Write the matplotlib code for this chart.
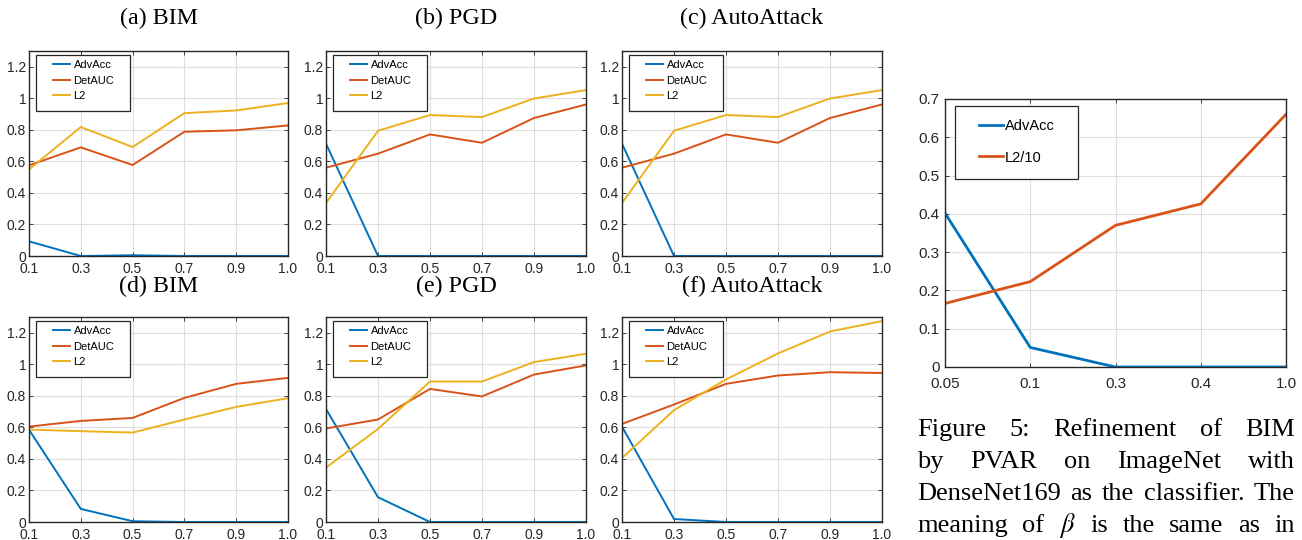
import matplotlib
matplotlib.use("Agg")
import matplotlib.pyplot as plt
from matplotlib.patches import Rectangle
import numpy as np

plt.rcParams['mathtext.fontset'] = 'stix'

# ---------------- data ----------------
beta_labels = ["0.1", "0.3", "0.5", "0.7", "0.9", "1.0"]
series_names = ["AdvAcc", "DetAUC", "L2"]

a_adv = [0.093, 0.0, 0.005, 0.0, 0.0, 0.0]
a_det = [0.575, 0.689, 0.577, 0.788, 0.797, 0.828]
a_l2 = [0.549, 0.818, 0.691, 0.906, 0.923, 0.970]

b_adv = [0.712, 0.0, 0.0, 0.0, 0.0, 0.0]
b_det = [0.560, 0.649, 0.771, 0.718, 0.875, 0.961]
b_l2 = [0.336, 0.794, 0.894, 0.881, 0.999, 1.052]

c_adv = [0.712, 0.0, 0.0, 0.0, 0.0, 0.0]
c_det = [0.560, 0.649, 0.771, 0.718, 0.875, 0.961]
c_l2 = [0.336, 0.794, 0.894, 0.881, 0.999, 1.052]

d_adv = [0.585, 0.083, 0.005, 0.0, 0.0, 0.0]
d_det = [0.605, 0.641, 0.660, 0.787, 0.876, 0.914]
d_l2 = [0.586, 0.576, 0.567, 0.650, 0.730, 0.785]

e_adv = [0.717, 0.157, 0.0, 0.0, 0.0, 0.0]
e_det = [0.593, 0.650, 0.844, 0.796, 0.935, 0.993]
e_l2 = [0.345, 0.590, 0.891, 0.891, 1.014, 1.067]

f_adv = [0.605, 0.019, 0.0, 0.0, 0.0, 0.0]
f_det = [0.622, 0.745, 0.876, 0.929, 0.950, 0.945]
f_l2 = [0.406, 0.709, 0.904, 1.069, 1.208, 1.274]

titles = ["(a) BIM", "(b) PGD", "(c) AutoAttack", "(d) BIM", "(e) PGD", "(f) AutoAttack"]

r_labels = ["0.05", "0.1", "0.3", "0.4", "1.0"]
r_names = ["AdvAcc", "L2/10"]
r_adv = [0.402, 0.051, 0.0, 0.0, 0.0]
r_l2 = [0.166, 0.223, 0.370, 0.426, 0.660]

caption_lines = [
    "Figure 5:  Refinement of BIM",
    "by PVAR on ImageNet with",
    "DenseNet169 as the classifier. The",
    r"meaning of $\beta$ is the same as in",
]

# ---------------- style ----------------
W, H = 1302, 540
colors = ["#0072BD", "#D95319", "#EDB120"]
axcol = "#262626"
sans = ["Liberation Sans", "DejaVu Sans"]
serif = ["Liberation Serif", "DejaVu Serif"]

fig = plt.figure(figsize=(W / 100, H / 100), dpi=100)


def fx(x):
    return x / W


def fy(y):
    return 1 - y / H


def px_axes(l, t, r, b):
    return fig.add_axes([l / W, 1 - b / H, (r - l) / W, (b - t) / H])


def style_axes(ax, fs, ypad, xpad):
    ax.grid(True, color="#dedede", linewidth=0.8)
    ax.set_axisbelow(True)
    for s in ax.spines.values():
        s.set_color(axcol)
        s.set_linewidth(1.0)
    ax.tick_params(direction="in", top=True, right=True, length=3,
                   width=0.6, color=axcol, labelcolor=axcol, labelsize=fs)
    ax.tick_params(axis="y", pad=ypad)
    ax.tick_params(axis="x", pad=xpad)
    for lab in ax.get_xticklabels() + ax.get_yticklabels():
        lab.set_family(sans)


def boxed_legend(ax, box, anchor, fs, hl, htp, ls):
    l, t, r, b = box
    rect = Rectangle((fx(l), fy(b)), (r - l) / W, (b - t) / H,
                     transform=fig.transFigure, facecolor="white",
                     edgecolor=axcol, linewidth=0.9, zorder=4, clip_on=False)
    ax.add_patch(rect)
    leg = ax.legend(loc="upper left", bbox_to_anchor=(fx(anchor[0]), fy(anchor[1])),
                    bbox_transform=fig.transFigure, borderaxespad=0, borderpad=0,
                    prop={"family": sans, "size": fs}, handlelength=hl,
                    handletextpad=htp, labelspacing=ls, frameon=False)
    leg.set_zorder(5)
    return leg


lefts = [29, 326, 622]
rights = [288, 586, 882]
rows = [(51, 256), (317, 522)]
title_y = [18, 286]
all_data = [
    (a_adv, a_det, a_l2), (b_adv, b_det, b_l2), (c_adv, c_det, c_l2),
    (d_adv, d_det, d_l2), (e_adv, e_det, e_l2), (f_adv, f_det, f_l2),
]
xpos = np.arange(len(beta_labels))
yt = [0, 0.2, 0.4, 0.6, 0.8, 1, 1.2]
ytl = ["0", "0.2", "0.4", "0.6", "0.8", "1", "1.2"]

for i, data in enumerate(all_data):
    r, c = divmod(i, 3)
    t, b = rows[r]
    L = lefts[c]
    ax = px_axes(L, t, rights[c], b)
    for k, ys in enumerate(data):
        ax.plot(xpos, ys, color=colors[k], lw=1.4, label=series_names[k],
                solid_joinstyle="miter")
    ax.set_xlim(0, len(beta_labels) - 1)
    ax.set_ylim(0, 1.3)
    ax.set_xticks(xpos)
    ax.set_xticklabels(beta_labels)
    ax.set_yticks(yt)
    ax.set_yticklabels(ytl)
    style_axes(ax, 10, 2, 4.5)
    boxed_legend(ax, (L + 7, t + 4, L + 101, t + 60), (L + 24, t + 9),
                 8, 1.55, 0.3, 0.5)
    fig.text(fx((L + rights[c]) / 2), fy(title_y[r]), titles[i],
             ha="center", va="center", family=serif, fontsize=17.3,
             color="black")

# right plot
axr = px_axes(945, 99, 1286, 367)
rx = np.arange(len(r_labels))
axr.plot(rx, r_adv, color=colors[0], lw=2.0, label=r_names[0])
axr.plot(rx, r_l2, color=colors[1], lw=2.0, label=r_names[1])
axr.set_xlim(0, len(r_labels) - 1)
axr.set_ylim(0, 0.7)
axr.set_xticks(rx)
axr.set_xticklabels(r_labels)
axr.set_yticks([0, 0.1, 0.2, 0.3, 0.4, 0.5, 0.6, 0.7])
axr.set_yticklabels(["0", "0.1", "0.2", "0.3", "0.4", "0.5", "0.6", "0.7"])
style_axes(axr, 11, 4, 7)
boxed_legend(axr, (955, 106, 1078, 179), (979, 119), 10.5, 1.65, 0.15, 1.2)

# caption, justified
cap_left, cap_right = 917, 1295
baselines = [436, 468, 500, 532]
cap_fs = 19
renderer = fig.canvas.get_renderer()
for line, yb in zip(caption_lines, baselines):
    words = line.split()
    widths = []
    for w in words:
        tt = fig.text(0, 0, w, family=serif, fontsize=cap_fs)
        widths.append(tt.get_window_extent(renderer).width)
        tt.remove()
    gap = (cap_right - cap_left - sum(widths)) / (len(words) - 1)
    x = cap_left
    for w, wd in zip(words, widths):
        fig.text(fx(x), fy(yb), w, family=serif, fontsize=cap_fs,
                 ha="left", va="baseline", color="black")
        x += wd + gap

fig.savefig("out.png", dpi=100)
